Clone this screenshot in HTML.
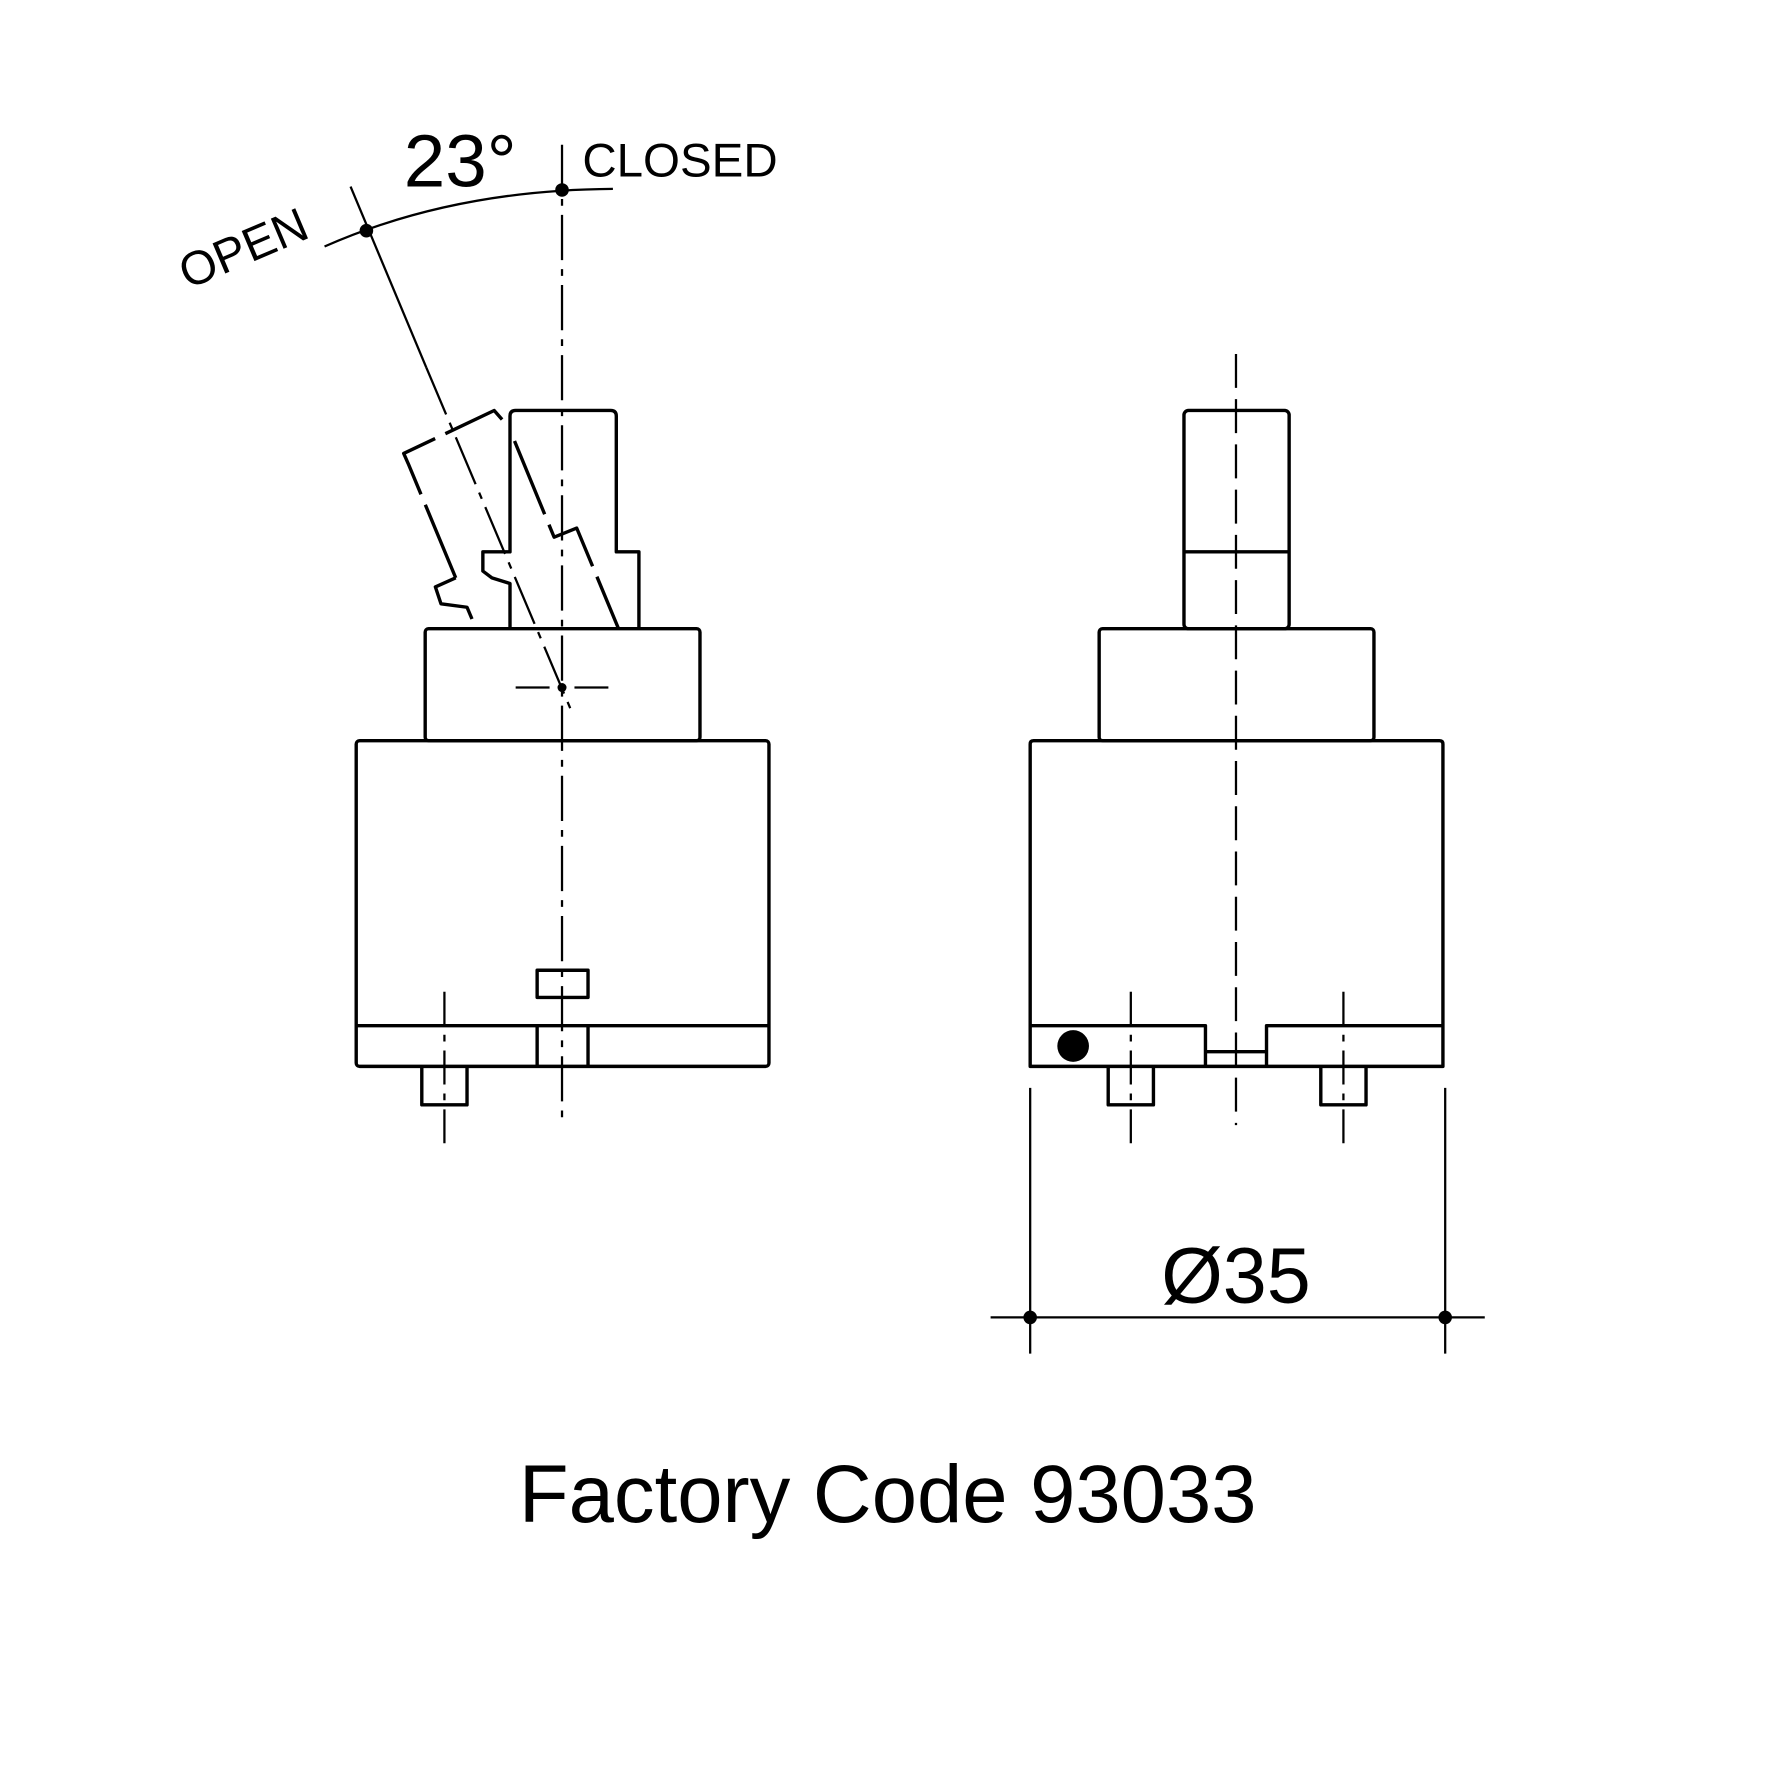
<!DOCTYPE html>
<html><head><style>html,body{margin:0;padding:0;background:#fff}svg{display:block}</style></head>
<body>
<svg width="1772" height="1772" viewBox="0 0 1567 1567" xmlns="http://www.w3.org/2000/svg" font-family="'Liberation Sans', sans-serif">
<g fill="none" stroke="#000" stroke-width="3" stroke-linejoin="round">
<path d="M451,556 V516 L435,511 L427,505 V488 H451 V368 Q451,363 456,363 H540 Q545,363 545,368 V488 H565 V556"/>
<rect x="376" y="556" width="243" height="99" rx="3"/>
<rect x="315" y="655" width="365" height="288" rx="3"/>
<line x1="315" y1="907" x2="680" y2="907"/>
<rect x="475" y="858" width="45" height="24"/>
<line x1="475" y1="907" x2="475" y2="943"/><line x1="520" y1="907" x2="520" y2="943"/>
<path d="M373,943 V977 H413 V943"/>
<g stroke-dasharray="70,10">
<path d="M403,511 L361,410 L357,401 L437,363 L444,371"/>
<path d="M403,511 L385,519 L390,534 L413,537 L421,556"/>
<path d="M455,390 L490,475 L510,467 L547,556"/>
</g>
<rect x="1047" y="363" width="93" height="193" rx="4"/>
<line x1="1047" y1="488" x2="1140" y2="488"/>
<rect x="972" y="556" width="243" height="99" rx="3"/>
<path d="M911,907 V658 Q911,655 914,655 H1273 Q1276,655 1276,658 V943 H911 V907 H1066 V943 M1066,930 H1120 M1120,943 V907 H1276"/>
<path d="M980,943 V977 H1020 V943"/>
<path d="M1168,943 V977 H1208 V943"/>
</g>
<circle cx="949" cy="925" r="14" fill="#000"/>
<g stroke="#000" stroke-width="2" fill="none">
<line x1="497" y1="128" x2="497" y2="995" stroke-dasharray="40,8,6,8"/>
<line x1="1093" y1="313" x2="1093" y2="995" stroke-dasharray="30,10"/>
<line x1="393" y1="877" x2="393" y2="1013" stroke-dasharray="30,8,6,8"/>
<line x1="1000" y1="877" x2="1000" y2="1013" stroke-dasharray="30,8,6,8"/>
<line x1="1188" y1="877" x2="1188" y2="1013" stroke-dasharray="30,8,6,8"/>
<line x1="456" y1="608" x2="538" y2="608" stroke-dasharray="30,10,2,10"/>
<line x1="310" y1="165" x2="377" y2="325"/>
<line x1="377" y1="325" x2="505" y2="628" stroke-dasharray="45,8,6,8"/>
<path d="M287,218 Q400,168 542,167"/>
<line x1="911" y1="962" x2="911" y2="1197"/>
<line x1="1278" y1="962" x2="1278" y2="1197"/>
<line x1="876" y1="1165" x2="1313" y2="1165"/>
</g>
<g fill="#000">
<circle cx="324" cy="204" r="6"/><circle cx="497" cy="168" r="6"/><circle cx="497" cy="608" r="4"/>
<circle cx="911" cy="1165" r="6"/><circle cx="1278" cy="1165" r="6"/>
</g>
<g fill="#000">
<text x="357" y="165" font-size="66">23°</text>
<text x="515" y="156" font-size="42">CLOSED</text>
<text x="0" y="0" font-size="42" transform="translate(166,256) rotate(-23)">OPEN</text>
<text x="1093" y="1152" font-size="70" text-anchor="middle">Ø35</text>
<text x="785" y="1346" font-size="72" text-anchor="middle">Factory Code 93033</text>
</g>
</svg>
</body></html>
